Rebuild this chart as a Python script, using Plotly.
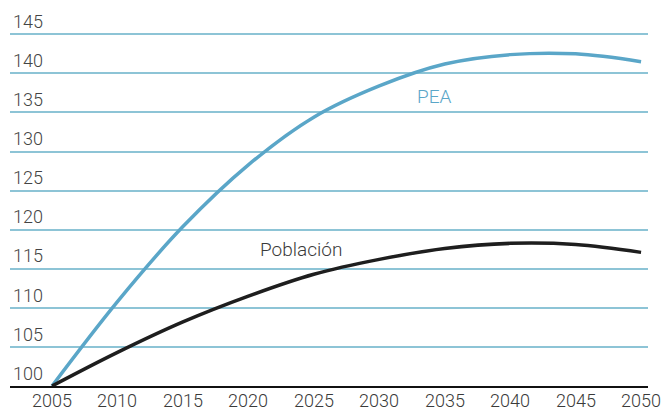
import plotly.graph_objects as go

years = [2005, 2010, 2015, 2020, 2025, 2030, 2035, 2040, 2045, 2050]
pea = [100, 110.8, 120.4, 128.3, 134.4, 138.4, 141.2, 142.4, 142.5, 141.5]
poblacion = [100, 104.3, 108.2, 111.5, 114.3, 116.2, 117.6, 118.25, 118.1, 117.1]

x_ticks = [2005, 2010, 2015, 2020, 2025, 2030, 2035, 2040, 2045, 2050]
y_ticks = [100, 105, 110, 115, 120, 125, 130, 135, 140, 145]

font_family = "Roboto, Liberation Sans, sans-serif"
text_color = "#3a3a3a"
pea_color = "#5aa6c8"
grid_color = "#8dc4d6"

fig = go.Figure()
fig.add_trace(go.Scatter(x=years, y=pea, mode="lines", line=dict(color=pea_color, width=3.5, shape="spline"),
                         name="PEA", showlegend=False, hoverinfo="skip"))
fig.add_trace(go.Scatter(x=years, y=poblacion, mode="lines", line=dict(color="#1e1e1e", width=3.5, shape="spline"),
                         name="Población", showlegend=False, hoverinfo="skip"))

fig.add_annotation(x=2034.2, y=137.0, text="PEA", showarrow=False,
                   font=dict(family=font_family, size=19, color=pea_color, weight=300))
fig.add_annotation(x=2024.0, y=117.5, text="Población", showarrow=False,
                   font=dict(family=font_family, size=19, color=text_color, weight=300))

# x tick labels as annotations for precise vertical placement
for v in x_ticks:
    fig.add_annotation(x=v, xref="x", y=0, yref="paper", text=str(v), showarrow=False,
                       yanchor="middle", yshift=-14, borderpad=0,
                       font=dict(family=font_family, size=18, color=text_color, weight=300))

fig.update_layout(
    width=666, height=410,
    margin=dict(l=10, r=18, t=10, b=24, autoexpand=False),
    paper_bgcolor="white", plot_bgcolor="white",
    font=dict(family=font_family, size=18, color=text_color, weight=300),
    xaxis=dict(range=[2001.79, 2050.53], tickvals=x_ticks, showticklabels=False,
               showgrid=False, zeroline=False, showline=True, linecolor="#111111", linewidth=2,
               ticks="", fixedrange=True, automargin=False),
    yaxis=dict(range=[100, 148.11], tickvals=y_ticks, ticktext=[str(v) for v in y_ticks],
               showgrid=True, gridcolor=grid_color, gridwidth=2, zeroline=False, showline=False,
               ticks="", ticklabelposition="inside top", fixedrange=True, automargin=False),
)

fig.write_html("out.html", config={"displayModeBar": False, "staticPlot": True},
               post_script="document.body.style.margin='0';document.body.style.overflow='hidden';")
